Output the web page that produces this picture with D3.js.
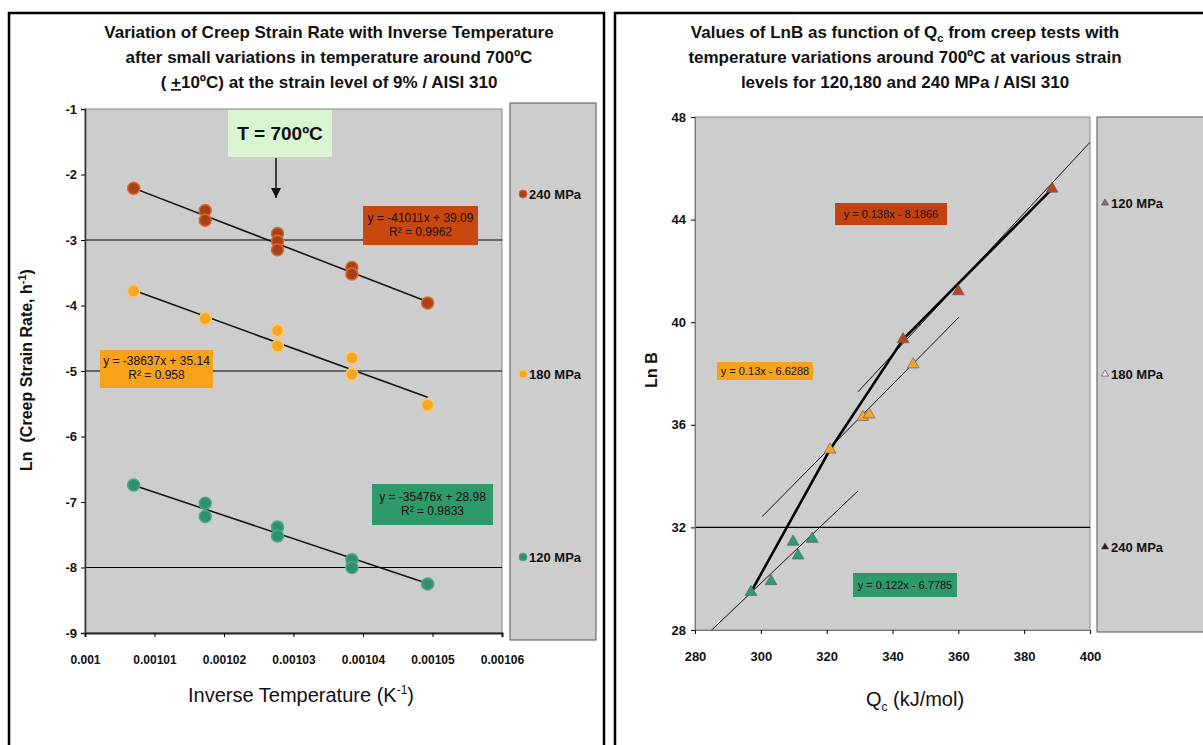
<!DOCTYPE html>
<html><head><meta charset="utf-8">
<script src="https://cdn.jsdelivr.net/npm/d3@7"></script>
<style>
body{margin:0;background:#fff;}
svg{display:block;}
text{font-family:"Liberation Sans Narrow","Arial Narrow","Liberation Sans",sans-serif;font-weight:bold;fill:#111;}
</style></head><body>
<svg id="c" width="1203" height="745"></svg>
<script>
// ---------- Left chart data ----------
const leftSeries = ["240 MPa", "180 MPa", "120 MPa"];
const leftXTicks = [0.001, 0.00101, 0.00102, 0.00103, 0.00104, 0.00105, 0.00106];
const leftXTickLabels = ["0.001","0.00101","0.00102","0.00103","0.00104","0.00105","0.00106"];
const leftYTicks = [-1,-2,-3,-4,-5,-6,-7,-8,-9];
const x240 = [0.001007,0.0010173,0.0010173,0.0010277,0.0010277,0.0010277,0.0010384,0.0010384,0.0010493];
const y240 = [-2.21,-2.55,-2.70,-2.90,-3.02,-3.15,-3.42,-3.52,-3.96];
const x180 = [0.001007,0.0010173,0.0010277,0.0010277,0.0010384,0.0010384,0.0010493];
const y180 = [-3.78,-4.20,-4.38,-4.62,-4.80,-5.05,-5.52];
const x120 = [0.001007,0.0010173,0.0010173,0.0010277,0.0010277,0.0010384,0.0010384,0.0010493];
const y120 = [-6.74,-7.02,-7.22,-7.38,-7.52,-7.88,-8.00,-8.25];
const leftSlopes = [-41011, -38637, -35476];
const leftIntercepts = [39.09, 35.14, 28.98];
const leftEqLines = [["y = -41011x + 39.09","R² = 0.9962"],["y = -38637x + 35.14","R² = 0.958"],["y = -35476x + 28.98","R² = 0.9833"]];
const leftGrid = [-3,-5,-8];

// ---------- Right chart data ----------
const rightSeries = ["120 MPa", "180 MPa", "240 MPa"];
const rightXTicks = [280,300,320,340,360,380,400];
const rightYTicks = [28,32,36,40,44,48];
const qGreen = [297.0,303.1,309.8,311.3,315.6];
const lnGreen = [29.48,29.90,31.44,30.90,31.55];
const qOrange = [321.0,331.0,332.9,346.3];
const lnOrange = [35.03,36.30,36.40,38.35];
const qRed = [343.2,360.0,388.5];
const lnRed = [39.33,41.20,45.20];
const rightSlopes = [0.122, 0.13, 0.138];
const rightIntercepts = [-6.7785, -6.6288, -8.1866];
const rightFitRange = [[284.5,329.5],[300.4,360.2],[329.5,400]];
const rightEqLabels = ["y = 0.122x - 6.7785","y = 0.13x - 6.6288","y = 0.138x - 8.1866"];
// thick connecting line through the combined data
const thickQ = [297.0, 321.0, 343.2, 388.5];
const thickLn = [29.48, 35.03, 39.33, 45.20];
const rightGrid = [32];

const svg = d3.select("#c");
const colL = ["#a8401a","#f4a52a","#2f8f72"];
const colLs = ["#d86a2a","#ffc850","#4aa888"];
const boxCol = ["#c9480f","#f7a21a","#2e9a6c"];

// Panels
svg.append("rect").attr("x",9).attr("y",13).attr("width",595).attr("height",740).attr("fill","#fff").attr("stroke","#000").attr("stroke-width",2.5);
svg.append("rect").attr("x",615).attr("y",13).attr("width",600).attr("height",740).attr("fill","#fff").attr("stroke","#000").attr("stroke-width",2.5);

// ===== LEFT =====
const lx = d3.scaleLinear().domain([0.001,0.00106]).range([85,502]);
const ly = d3.scaleLinear().domain([-9,-1]).range([633,109]);
const L = svg.append("g");
L.append("rect").attr("x",85).attr("y",109).attr("width",417).attr("height",524).attr("fill","#cdcdcd").attr("stroke","#888").attr("stroke-width",1);
L.selectAll(".gl").data(leftGrid).join("line").attr("x1",85).attr("x2",502).attr("y1",d=>ly(d)).attr("y2",d=>ly(d)).attr("stroke","#000").attr("stroke-width",1.2);
L.append("rect").attr("x",510).attr("y",103).attr("width",86).attr("height",537).attr("fill","#cdcdcd").attr("stroke","#555").attr("stroke-width",1);

const lyAxis = d3.axisLeft(ly).tickValues(leftYTicks).tickSize(4).tickFormat(d=>String(d));
const gly = L.append("g").attr("transform","translate(85,0)").call(lyAxis);
gly.select(".domain").attr("stroke","#333").attr("stroke-width",1.5);
gly.selectAll("text").style("font-size","13px").attr("x",-8);
const lxAxis = d3.axisBottom(lx).tickValues(leftXTicks).tickSize(4).tickFormat((d,i)=>leftXTickLabels[i]);
const glx = L.append("g").attr("transform","translate(0,633)").call(lxAxis);
glx.select(".domain").attr("stroke","#222").attr("stroke-width",2);
glx.selectAll("text").style("font-size","12px").attr("y",22);

const leftXs = [x240,x180,x120], leftYs = [y240,y180,y120];
leftSlopes.forEach((m,i)=>{
  const xmin = d3.min(leftXs[i]), xmax = d3.max(leftXs[i]);
  L.append("line").attr("x1",lx(xmin)).attr("y1",ly(m*xmin+leftIntercepts[i]))
   .attr("x2",lx(xmax)).attr("y2",ly(m*xmax+leftIntercepts[i])).attr("stroke","#111").attr("stroke-width",1.5);
});
leftXs.forEach((xa,i)=>{
  L.selectAll(".p"+i).data(xa.map((x,j)=>[x,leftYs[i][j]])).join("circle")
   .attr("cx",d=>lx(d[0])).attr("cy",d=>ly(d[1])).attr("r",6)
   .attr("fill",colL[i]).attr("stroke",colLs[i]).attr("stroke-width",1.5);
});
const leftBoxes = [[363,206,115,39],[100,350,113,38],[372,484,121,41]];
leftBoxes.forEach((b,i)=>{
  L.append("rect").attr("x",b[0]).attr("y",b[1]).attr("width",b[2]).attr("height",b[3]).attr("fill",boxCol[i]);
  leftEqLines[i].forEach((t,k)=>{
    L.append("text").attr("x",b[0]+b[2]/2).attr("y",b[1]+b[3]/2-4+k*14).attr("text-anchor","middle")
     .style("font-size","12px").style("font-weight","normal").text(t);
  });
});
L.append("rect").attr("x",228).attr("y",110).attr("width",104).attr("height",47).attr("fill","#d9f5d2");
L.append("text").attr("x",280).attr("y",140).attr("text-anchor","middle").style("font-size","19px").text("T = 700ºC");
svg.append("defs").append("marker").attr("id","ah").attr("viewBox","0 0 10 10").attr("refX",10).attr("refY",5)
  .attr("markerWidth",7).attr("markerHeight",7).attr("orient","auto")
  .append("path").attr("d","M0,0L10,5L0,10z").attr("fill","#111");
L.append("line").attr("x1",276).attr("y1",158).attr("x2",276).attr("y2",198).attr("stroke","#111").attr("stroke-width",1.5).attr("marker-end","url(#ah)");
const leftLegY = [194,374,557];
leftSeries.forEach((s,i)=>{
  L.append("circle").attr("cx",523).attr("cy",leftLegY[i]).attr("r",4).attr("fill",colL[i]).attr("stroke",colLs[i]);
  L.append("text").attr("x",529).attr("y",leftLegY[i]+5).style("font-size","13px").text(s);
});
const lt = ["Variation of Creep Strain Rate with Inverse Temperature","after small variations in temperature around 700ºC","( ±10ºC) at the strain level of 9% / AISI 310"];
lt.forEach((t,i)=>{
  const tx = L.append("text").attr("x",329).attr("y",38+i*25).attr("text-anchor","middle").style("font-size","17px");
  if(i===2){
    tx.append("tspan").text("( ");
    tx.append("tspan").attr("text-decoration","underline").text("+");
    tx.append("tspan").text("10ºC) at the strain level of 9% / AISI 310");
  } else tx.text(t);
});
const lyt = L.append("text").attr("transform","translate(32,370) rotate(-90)").attr("text-anchor","middle")
  .style("font-family","'Liberation Sans',Arial,sans-serif").style("font-size","16px");
lyt.append("tspan").text("Ln\u00a0\u00a0(Creep Strain Rate, h");
lyt.append("tspan").attr("dy",-6).style("font-size","11px").text("-1");
lyt.append("tspan").attr("dy",6).text(")");
const lxt = L.append("text").attr("x",301).attr("y",702).attr("text-anchor","middle").style("font-size","20px").style("font-weight","normal");
lxt.append("tspan").text("Inverse Temperature (K");
lxt.append("tspan").attr("dy",-8).style("font-size","12px").text("-1");
lxt.append("tspan").attr("dy",8).text(")");

// ===== RIGHT =====
const rx = d3.scaleLinear().domain([280,400]).range([695,1090]);
const ry = d3.scaleLinear().domain([28,48]).range([630,117]);
const R = svg.append("g");
R.append("rect").attr("x",695).attr("y",117).attr("width",395).attr("height",513).attr("fill","#cdcdcd").attr("stroke","#888").attr("stroke-width",1);
R.selectAll(".gr").data(rightGrid).join("line").attr("x1",695).attr("x2",1090).attr("y1",d=>ry(d)).attr("y2",d=>ry(d)).attr("stroke","#000").attr("stroke-width",1.2);
R.append("rect").attr("x",1097).attr("y",117).attr("width",120).attr("height",515).attr("fill","#cdcdcd").attr("stroke","#555").attr("stroke-width",1);
const ryAxis = d3.axisLeft(ry).tickValues(rightYTicks).tickSize(4).tickFormat(d=>String(d));
const gry = R.append("g").attr("transform","translate(695,0)").call(ryAxis);
gry.select(".domain").attr("stroke","#777");
gry.selectAll("text").style("font-size","13px").attr("x",-9);
const rxAxis = d3.axisBottom(rx).tickValues(rightXTicks).tickSize(4).tickFormat(d=>String(d));
const grx = R.append("g").attr("transform","translate(0,630)").call(rxAxis);
grx.select(".domain").attr("stroke","#777");
grx.selectAll("text").style("font-size","13px").attr("y",22);

svg.select("defs").append("clipPath").attr("id","rclip").append("rect").attr("x",695).attr("y",117).attr("width",395).attr("height",513);
const fits = R.append("g").attr("clip-path","url(#rclip)");
rightSlopes.forEach((m,i)=>{
  const [a,b] = rightFitRange[i];
  fits.append("line").attr("x1",rx(a)).attr("y1",ry(m*a+rightIntercepts[i])).attr("x2",rx(b)).attr("y2",ry(m*b+rightIntercepts[i]))
   .attr("stroke","#111").attr("stroke-width",1);
});
fits.append("path").attr("d",d3.line().x(d=>rx(d[0])).y(d=>ry(d[1]))(thickQ.map((q,i)=>[q,thickLn[i]])))
  .attr("fill","none").attr("stroke","#000").attr("stroke-width",2.6).attr("stroke-linejoin","round");
const tri = d3.symbol().type(d3.symbolTriangle).size(60);
const rQ = [qGreen,qOrange,qRed], rL = [lnGreen,lnOrange,lnRed];
const rCol = ["#2f9a78","#f4a52a","#b8471a"];
rQ.forEach((qa,i)=>{
  R.selectAll(".t"+i).data(qa.map((q,j)=>[q,rL[i][j]])).join("path").attr("d",tri)
   .attr("transform",d=>`translate(${rx(d[0])},${ry(d[1])})`).attr("fill",rCol[i]).attr("stroke","#555").attr("stroke-width",0.6);
});
const rightBoxes = [[853,573,104,24],[717,362,96,18],[835,203,112,22]];
const rBoxCol = ["#2e9a6c","#f7a21a","#c4420f"];
rightBoxes.forEach((b,i)=>{
  R.append("rect").attr("x",b[0]).attr("y",b[1]).attr("width",b[2]).attr("height",b[3]).attr("fill",rBoxCol[i]);
  R.append("text").attr("x",b[0]+b[2]/2).attr("y",b[1]+b[3]/2+4).attr("text-anchor","middle")
   .style("font-size","11px").style("font-weight","normal").text(rightEqLabels[i]);
});
const rightLegY = [203,374,547];
const rLegFill = ["#777","#eee","#222"];
rightSeries.forEach((s,i)=>{
  R.append("path").attr("d",d3.symbol().type(d3.symbolTriangle).size(22)).attr("transform",`translate(1105,${rightLegY[i]})`)
   .attr("fill",rLegFill[i]).attr("stroke","#444").attr("stroke-width",0.6);
  R.append("text").attr("x",1111).attr("y",rightLegY[i]+5).style("font-size","13px").text(s);
});
const rt = R.append("g");
const r1 = rt.append("text").attr("x",905).attr("y",38).attr("text-anchor","middle").style("font-size","17px");
r1.append("tspan").text("Values of LnB as function of Q");
r1.append("tspan").attr("dy",4).style("font-size","11px").text("c");
r1.append("tspan").attr("dy",-4).text(" from creep tests with");
rt.append("text").attr("x",905).attr("y",63).attr("text-anchor","middle").style("font-size","17px").text("temperature variations around 700ºC at various strain");
rt.append("text").attr("x",905).attr("y",88).attr("text-anchor","middle").style("font-size","17px").text("levels for 120,180 and 240 MPa / AISI 310");
R.append("text").attr("transform","translate(657,370) rotate(-90)").attr("text-anchor","middle")
  .style("font-family","'Liberation Sans',Arial,sans-serif").style("font-size","16px").text("Ln B");
const rxt = R.append("text").attr("x",915).attr("y",706).attr("text-anchor","middle").style("font-size","20px").style("font-weight","normal");
rxt.append("tspan").text("Q");
rxt.append("tspan").attr("dy",5).style("font-size","12px").text("c");
rxt.append("tspan").attr("dy",-5).text(" (kJ/mol)");
</script>
</body></html>
